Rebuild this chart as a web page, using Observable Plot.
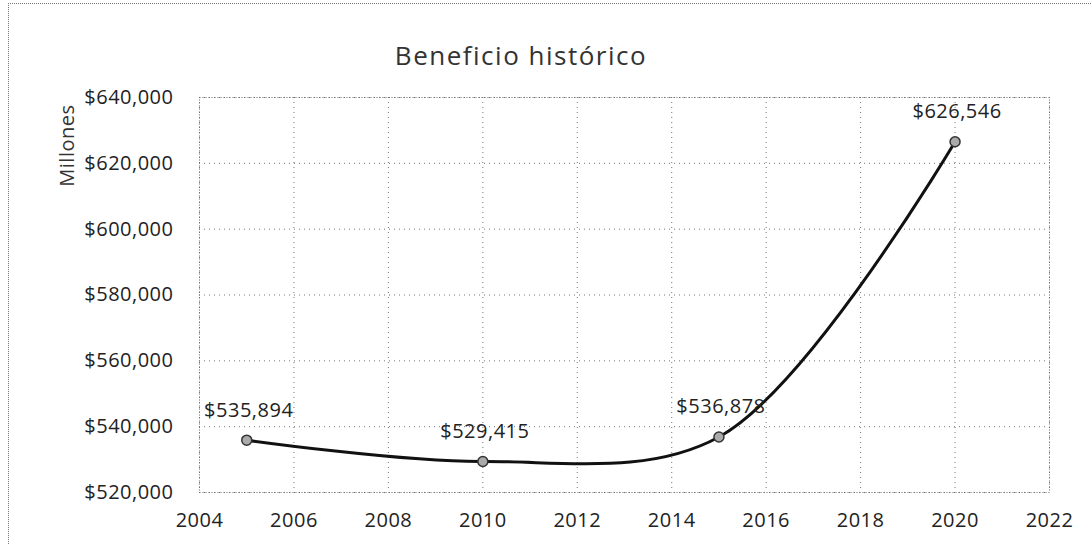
<!DOCTYPE html>
<html>
<head>
<meta charset="utf-8">
<script src="https://cdn.jsdelivr.net/npm/d3@7"></script>
<script src="https://cdn.jsdelivr.net/npm/@observablehq/plot@0.6"></script>
<style>
  html, body { margin: 0; padding: 0; background: #fff; }
  #wrap { position: relative; width: 1092px; height: 544px; overflow: hidden; }
  #frame { position: absolute; left: 8px; top: 3px; width: 1200px; height: 600px;
           border-top: 1px dotted #777; border-left: 1px dotted #777; }
  #title { position: absolute; left: 0; width: 1042px; top: 37px; text-align: center;
           font-family: "Open Sans", sans-serif; font-size: 26px; letter-spacing: 1.5px; color: #333; }
  #chart { position: absolute; left: 0; top: 0; }
</style>
</head>
<body>
<div id="wrap">
  <div id="frame"></div>
  <div id="title">Beneficio histórico</div>
  <div id="chart"></div>
</div>
<script>
const years = [2005, 2010, 2015, 2020];
const values = [535894, 529415, 536878, 626546];
const xTicks = [2004, 2006, 2008, 2010, 2012, 2014, 2016, 2018, 2020, 2022];
const yTicks = [520000, 540000, 560000, 580000, 600000, 620000, 640000];
const yLabel = "Millones";

const data = years.map((y, i) => ({year: y, value: values[i]}));
const fmt = v => "$" + d3.format(",")(v);

const chart = Plot.plot({
  width: 1092,
  height: 544,
  marginLeft: 199,
  marginRight: 43,
  marginTop: 97,
  marginBottom: 52,
  style: {fontFamily: "Open Sans, sans-serif", fontSize: "20px", letterSpacing: "0.5px", color: "#222", background: "transparent"},
  x: {domain: [2004, 2022], ticks: xTicks, tickFormat: d => String(d)},
  y: {domain: [520000, 640000], ticks: yTicks, tickFormat: fmt},
  marks: [
    Plot.gridX(xTicks, {stroke: "#666", strokeOpacity: 0.9, strokeDasharray: "1,4"}),
    Plot.gridY(yTicks, {stroke: "#666", strokeOpacity: 0.9, strokeDasharray: "1,4"}),
    Plot.frame({stroke: "#666", strokeDasharray: "1,2"}),
    Plot.axisX(xTicks, {tickSize: 0, tickPadding: 20, fontSize: 20, label: null, tickFormat: d => String(d)}),
    Plot.axisY(yTicks, {tickSize: 0, tickPadding: 26, fontSize: 20, label: null, tickFormat: fmt}),
    Plot.text([yLabel], {frameAnchor: "top-left", dx: -140, dy: 7, rotate: -90, textAnchor: "end", fontSize: 20, fill: "#333", style: "letter-spacing:1.5px"}),
    Plot.line(data, {x: "year", y: "value", curve: "catmull-rom", stroke: "#111", strokeWidth: 3}),
    Plot.dot(data, {x: "year", y: "value", r: 5, fill: "#aaa", stroke: "#333", strokeWidth: 1.5}),
    Plot.text(data, {x: "year", y: "value", text: d => fmt(d.value), dy: -30, dx: 2, fontSize: 20, fill: "#222"})
  ]
});
document.getElementById("chart").appendChild(chart);
</script>
</body>
</html>
